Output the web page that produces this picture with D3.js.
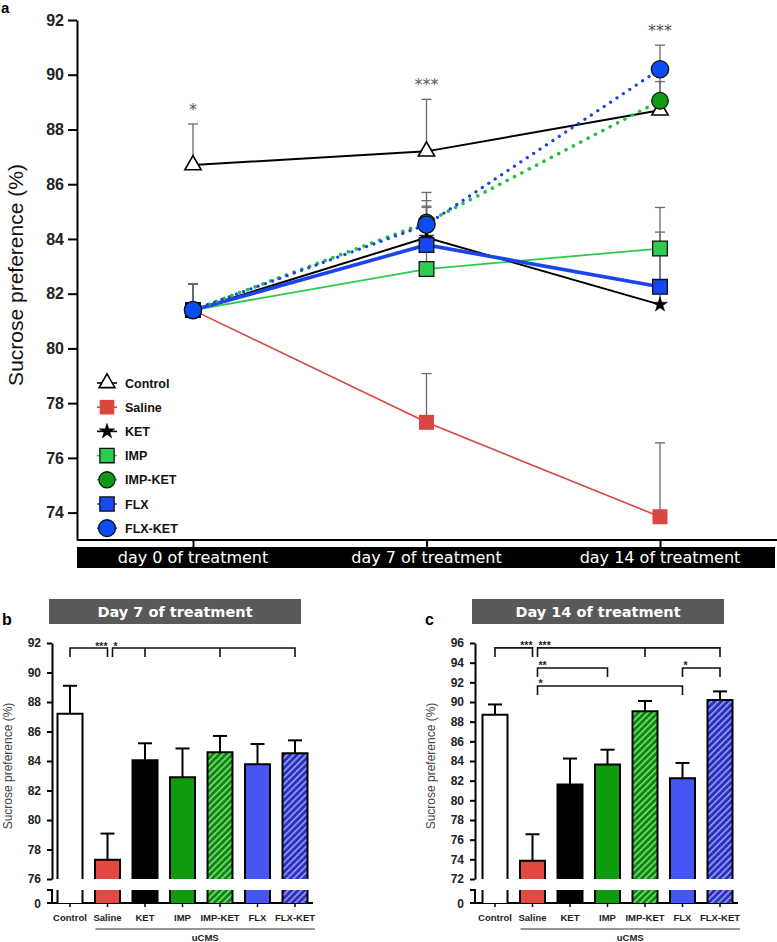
<!DOCTYPE html>
<html><head><meta charset="utf-8">
<script src="https://cdn.jsdelivr.net/npm/d3@7"></script>
<style>body{margin:0;background:#fff}svg{display:block}</style>
</head><body>
<svg id="chart" width="777" height="942"></svg>
<script>
// ---------------- DATA ----------------
const days = [0, 7, 14];
const dayLabels = ["day 0 of treatment", "day 7 of treatment", "day 14 of treatment"];
const groups = ["Control", "Saline", "KET", "IMP", "IMP-KET", "FLX", "FLX-KET"];
const groupsUCMS = ["Saline", "KET", "IMP", "IMP-KET", "FLX", "FLX-KET"];

// mean values (day 0, day 7, day 14)
const controlMean = [86.7, 87.2, 88.7];
const salineMean  = [81.4, 77.3, 73.85];
const ketMean     = [81.4, 84.05, 81.6];
const impMean     = [81.4, 82.9, 83.65];
const impKetMean  = [81.4, 84.6, 89.05];
const flxMean     = [81.4, 83.78, 82.25];
const flxKetMean  = [81.4, 84.52, 90.2];
// upper end of error bars (mean + SEM)
const controlErr = [88.2, 89.1, 89.75];
const salineErr  = [82.35, 79.08, 76.55];
const ketErr     = [82.35, 85.2, 84.25];
const impErr     = [82.35, 84.85, 85.15];
const impKetErr  = [82.35, 85.7, 90.1];
const flxErr     = [82.35, 85.15, 83.8];
const flxKetErr  = [82.35, 85.4, 91.08];

const sigA = ["*", "***", "***"];
const ticksA = [74, 76, 78, 80, 82, 84, 86, 88, 90, 92];
const ticksB = [76, 78, 80, 82, 84, 86, 88, 90, 92];
const ticksC = [72, 74, 76, 78, 80, 82, 84, 86, 88, 90, 92, 94, 96];

// significance brackets: [legs (groups), level (value), label, label anchor]
const bracketsB = [
  [["Control", "Saline"], 91.66, "***", "end"],
  [["Saline", "KET", "IMP-KET", "FLX-KET"], 91.66, "*", "start"]
];
const bracketsC = [
  [["Control", "Saline"], 95.5, "***", "end"],
  [["Saline", "IMP-KET", "FLX-KET"], 95.5, "***", "start"],
  [["Saline", "IMP"], 93.46, "**", "start"],
  [["FLX", "FLX-KET"], 93.46, "*", "start"],
  [["Saline", "FLX"], 91.63, "*", "start"]
];

// build table
const meanOf = {"Control": controlMean, "Saline": salineMean, "KET": ketMean, "IMP": impMean,
  "IMP-KET": impKetMean, "FLX": flxMean, "FLX-KET": flxKetMean};
const errOf = {"Control": controlErr, "Saline": salineErr, "KET": ketErr, "IMP": impErr,
  "IMP-KET": impKetErr, "FLX": flxErr, "FLX-KET": flxKetErr};

// ---------------- STYLE ----------------
const AR = "'Liberation Sans', Arial, sans-serif";
const DJ = "'DejaVu Sans', sans-serif";
const sty = {
  "Control": {line: "#000", w: 2, dash: null, sym: d3.symbolTriangle, size: 115, fill: "#fff", stroke: "#000", sw: 1.6},
  "Saline":  {line: "#d9463f", w: 1.6, dash: null, sym: d3.symbolSquare, size: 225, fill: "#dc4640", stroke: "none", sw: 0},
  "KET":     {line: "#000", w: 2, dash: null, sym: d3.symbolStar, size: 70, fill: "#000", stroke: "#000", sw: 0.5},
  "IMP":     {line: "#2bcc4b", w: 1.8, dash: null, sym: d3.symbolSquare, size: 215, fill: "#2dcc50", stroke: "#111", sw: 1.3},
  "IMP-KET": {line: "#22c241", w: 3.6, dash: "0.1 8.2", sym: d3.symbolCircle, size: 215, fill: "#129a12", stroke: "#111", sw: 1.3},
  "FLX":     {line: "#1c44ee", w: 3.6, dash: null, sym: d3.symbolSquare, size: 215, fill: "#1647f0", stroke: "#111", sw: 1.3},
  "FLX-KET": {line: "#1f3fe8", w: 3.2, dash: "0.1 7.6", sym: d3.symbolCircle, size: 235, fill: "#0a4cf6", stroke: "#111", sw: 1.3}
};
const lineOrder = ["Control", "Saline", "IMP", "KET", "FLX", "IMP-KET", "FLX-KET"];

const svg = d3.select("#chart");

// patterns
const defs = svg.append("defs");
function hatch(id, base, stripe) {
  const p = defs.append("pattern").attr("id", id).attr("patternUnits", "userSpaceOnUse")
    .attr("width", 4.6).attr("height", 4.6).attr("patternTransform", "rotate(45)");
  p.append("rect").attr("width", 4.6).attr("height", 4.6).attr("fill", base);
  p.append("rect").attr("x", 0).attr("width", 1.6).attr("height", 4.6).attr("fill", stripe);
}
hatch("hG", "#0d880d", "#7fdc7f");
hatch("hB", "#2b2fbf", "#9a9ef2");
const barFill = {"Control": "#fff", "Saline": "#e04a42", "KET": "#000", "IMP": "#0f9b0f",
  "IMP-KET": "url(#hG)", "FLX": "#4456f4", "FLX-KET": "url(#hB)"};

// ---------------- PANEL A ----------------
const ya = d3.scaleLinear().domain([73, 92]).range([540, 20]);
const xa = d3.scaleLinear().domain([0, 14]).range([193, 660]);
const aX0 = 77, aX1 = 777;

svg.append("text").attr("x", 1).attr("y", 13).attr("font-family", AR).attr("font-weight", "bold")
  .attr("font-size", 15).text("a");

// y axis
const gya = svg.append("g").attr("transform", `translate(${aX0},0)`)
  .call(d3.axisLeft(ya).tickValues(ticksA).tickSize(9).tickSizeOuter(0).tickPadding(4));
gya.select(".domain").attr("stroke-width", 2);
gya.selectAll(".tick line").attr("stroke-width", 2);
gya.selectAll(".tick text").attr("font-family", AR).attr("font-weight", "bold").attr("font-size", 16).attr("fill", "#222");

svg.append("text").attr("transform", `translate(23,275) rotate(-90)`).attr("text-anchor", "middle")
  .attr("font-family", AR).attr("font-size", 21).attr("fill", "#111").text("Sucrose preference (%)");

// x axis
svg.append("line").attr("x1", aX0).attr("x2", aX1).attr("y1", ya(73)).attr("y2", ya(73))
  .attr("stroke", "#000").attr("stroke-width", 2);
svg.append("rect").attr("x", aX0).attr("y", 547).attr("width", 698).attr("height", 21).attr("fill", "#000");
const gxa = svg.append("g").attr("transform", `translate(0,${ya(73)})`)
  .call(d3.axisBottom(xa).tickValues(days).tickSize(8).tickFormat(""));
gxa.select(".domain").remove();
gxa.selectAll(".tick line").attr("stroke-width", 2);
svg.append("g").selectAll("text").data(days).join("text")
  .attr("x", d => xa(d)).attr("y", 563).attr("text-anchor", "middle")
  .attr("font-family", DJ).attr("font-size", 16).attr("fill", "#fff")
  .text((d, i) => dayLabels[i]);

// lines
const lineGen = d3.line().x((d, i) => xa(days[i])).y(d => ya(d));
const gl = svg.append("g");
lineOrder.forEach(g => {
  const s = sty[g];
  gl.append("path").attr("d", lineGen(meanOf[g])).attr("fill", "none").attr("stroke", s.line)
    .attr("stroke-width", s.w).attr("stroke-dasharray", s.dash).attr("stroke-linecap", s.dash ? "round" : "butt");
});
// error bars
const ge = svg.append("g").attr("stroke", "#6a6a6a").attr("stroke-width", 1.3);
groups.forEach(g => {
  days.forEach((d, i) => {
    const x = xa(d), y0 = ya(meanOf[g][i]), y1 = ya(errOf[g][i]);
    ge.append("line").attr("x1", x).attr("x2", x).attr("y1", y0).attr("y2", y1);
    ge.append("line").attr("x1", x - 5).attr("x2", x + 5).attr("y1", y1).attr("y2", y1);
  });
});
// markers
const gm = svg.append("g");
groups.forEach(g => {
  const s = sty[g];
  gm.selectAll(null).data(meanOf[g]).join("path")
    .attr("transform", (v, i) => `translate(${xa(days[i])},${ya(v)})`)
    .attr("d", d3.symbol(s.sym, s.size)).attr("fill", s.fill).attr("stroke", s.stroke).attr("stroke-width", s.sw);
});
// significance
svg.append("g").selectAll("text").data(sigA).join("text")
  .attr("x", (d, i) => xa(days[i])).attr("y", (d, i) => ya(d3.max(groups, g => errOf[g][i])) - 9)
  .attr("text-anchor", "middle").attr("font-family", DJ).attr("font-size", 16).attr("fill", "#555")
  .text(d => d);

// legend
const gLeg = svg.append("g");
groups.forEach((g, i) => {
  const s = sty[g];
  const yy = 383 + i * 24.2;
  gLeg.append("line").attr("x1", 97).attr("x2", 117).attr("y1", yy).attr("y2", yy)
    .attr("stroke", s.line).attr("stroke-width", 1.6);
  gLeg.append("path").attr("transform", `translate(107,${yy})`)
    .attr("d", d3.symbol(s.sym, s.sym === d3.symbolStar ? 75 : s.size * 0.95))
    .attr("fill", s.fill).attr("stroke", s.stroke).attr("stroke-width", s.sw);
  gLeg.append("text").attr("x", 125).attr("y", yy + 4.5).attr("font-family", AR).attr("font-weight", "bold")
    .attr("font-size", 12.5).attr("fill", "#111").text(g);
});

// ---------------- PANELS B & C ----------------
function barPanel(cfg) {
  const {axisX, domain, ticks, xRange, di, brackets, title, letter, letterX, labelX} = cfg;
  const y = d3.scaleLinear().domain(domain).range([879, 643]);
  const yZero = 903, stubTop = 890;
  const x = d3.scalePoint().domain(groups).range(xRange);
  const bw = 25;
  const g = svg.append("g");

  // title
  g.append("rect").attr("x", axisX - 3).attr("y", 599).attr("width", 252).attr("height", 25).attr("fill", "#595959");
  g.append("text").attr("x", axisX + 123).attr("y", 617).attr("text-anchor", "middle")
    .attr("font-family", DJ).attr("font-weight", "bold").attr("font-size", 14.5).attr("fill", "#fff").text(title);
  g.append("text").attr("x", letterX).attr("y", 625).attr("font-family", AR).attr("font-weight", "bold")
    .attr("font-size", 16).text(letter);

  // y axis
  const gy = g.append("g").attr("transform", `translate(${axisX},0)`)
    .call(d3.axisLeft(y).tickValues(ticks).tickSize(5).tickSizeOuter(0).tickPadding(6));
  gy.select(".domain").attr("stroke-width", 2);
  gy.selectAll(".tick line").attr("stroke-width", 2);
  gy.selectAll(".tick text").attr("font-family", AR).attr("font-weight", "bold").attr("font-size", 12).attr("fill", "#222");
  // lower stub of broken axis
  g.append("path").attr("d", `M${axisX - 5},${stubTop}H${axisX}V${yZero}H${axisX - 5}`)
    .attr("fill", "none").attr("stroke", "#000").attr("stroke-width", 2);
  g.append("text").attr("x", axisX - 11).attr("y", yZero + 4.5).attr("text-anchor", "end")
    .attr("font-family", AR).attr("font-weight", "bold").attr("font-size", 12).attr("fill", "#222").text("0");
  g.append("text").attr("transform", `translate(${labelX},766) rotate(-90)`).attr("text-anchor", "middle")
    .attr("font-family", AR).attr("font-size", 12).attr("fill", "#444").text("Sucrose preference (%)");

  // x axis
  const xr = x(groups[groups.length - 1]);
  g.append("line").attr("x1", axisX - 4).attr("x2", xr + 18).attr("y1", yZero).attr("y2", yZero)
    .attr("stroke", "#000").attr("stroke-width", 2);
  groups.forEach(k => {
    g.append("line").attr("x1", x(k)).attr("x2", x(k)).attr("y1", yZero).attr("y2", yZero + 4)
      .attr("stroke", "#000").attr("stroke-width", 1.5);
  });

  // bars
  groups.forEach(k => {
    const v = meanOf[k][di], e = errOf[k][di];
    const cx = x(k), x0 = cx - bw / 2, x1 = cx + bw / 2;
    g.append("line").attr("x1", cx).attr("x2", cx).attr("y1", y(v)).attr("y2", y(e)).attr("stroke", "#000").attr("stroke-width", 2);
    g.append("line").attr("x1", cx - 7).attr("x2", cx + 7).attr("y1", y(e)).attr("y2", y(e)).attr("stroke", "#000").attr("stroke-width", 2);
    g.append("rect").attr("x", x0).attr("y", y(v)).attr("width", bw).attr("height", y(domain[0]) - y(v)).attr("fill", barFill[k]);
    g.append("rect").attr("x", x0).attr("y", stubTop).attr("width", bw).attr("height", yZero - stubTop).attr("fill", barFill[k]);
    g.append("path").attr("d", `M${x0},${y(domain[0])}V${y(v)}H${x1}V${y(domain[0])}M${x0},${stubTop}V${yZero}M${x1},${stubTop}V${yZero}`)
      .attr("fill", "none").attr("stroke", "#000").attr("stroke-width", 2);
  });

  // category labels
  g.selectAll(".cat").data(groups).join("text").attr("x", d => x(d)).attr("y", 921)
    .attr("text-anchor", "middle").attr("font-family", AR).attr("font-weight", "bold").attr("font-size", 9.5)
    .attr("fill", "#222").text(d => d);
  const ux0 = x(groupsUCMS[0]) - 12, ux1 = xr + 20;
  g.append("line").attr("x1", ux0).attr("x2", ux1).attr("y1", 929).attr("y2", 929).attr("stroke", "#333").attr("stroke-width", 1.2);
  g.append("text").attr("x", (ux0 + ux1) / 2).attr("y", 941).attr("text-anchor", "middle")
    .attr("font-family", AR).attr("font-weight", "bold").attr("font-size", 9.5).attr("fill", "#222").text("uCMS");

  // brackets
  brackets.forEach(([legs, level, label, anchor]) => {
    const yl = y(level);
    const xs = legs.map((k, i) => x(k) + (i === 0 && k === "Saline" ? 5 : 0));
    let d = `M${xs[0]},${yl + 9}V${yl}H${xs[xs.length - 1]}V${yl + 9}`;
    xs.slice(1, -1).forEach(xx => { d += `M${xx},${yl}V${yl + 9}`; });
    g.append("path").attr("d", d).attr("fill", "none").attr("stroke", "#111").attr("stroke-width", 1.6);
    g.append("text").attr("x", anchor === "end" ? xs[xs.length - 1] : xs[0] + 1).attr("y", yl + 1.5)
      .attr("text-anchor", anchor).attr("font-family", AR).attr("font-weight", "bold").attr("font-size", 10.5)
      .attr("fill", "#222").text(label);
  });
}

barPanel({axisX: 52, domain: [76, 92], ticks: ticksB, xRange: [70, 295], di: 1, brackets: bracketsB,
  title: "Day 7 of treatment", letter: "b", letterX: 2, labelX: 12});
barPanel({axisX: 475, domain: [72, 96], ticks: ticksC, xRange: [495, 720], di: 2, brackets: bracketsC,
  title: "Day 14 of treatment", letter: "c", letterX: 425, labelX: 435});
</script>
</body></html>
